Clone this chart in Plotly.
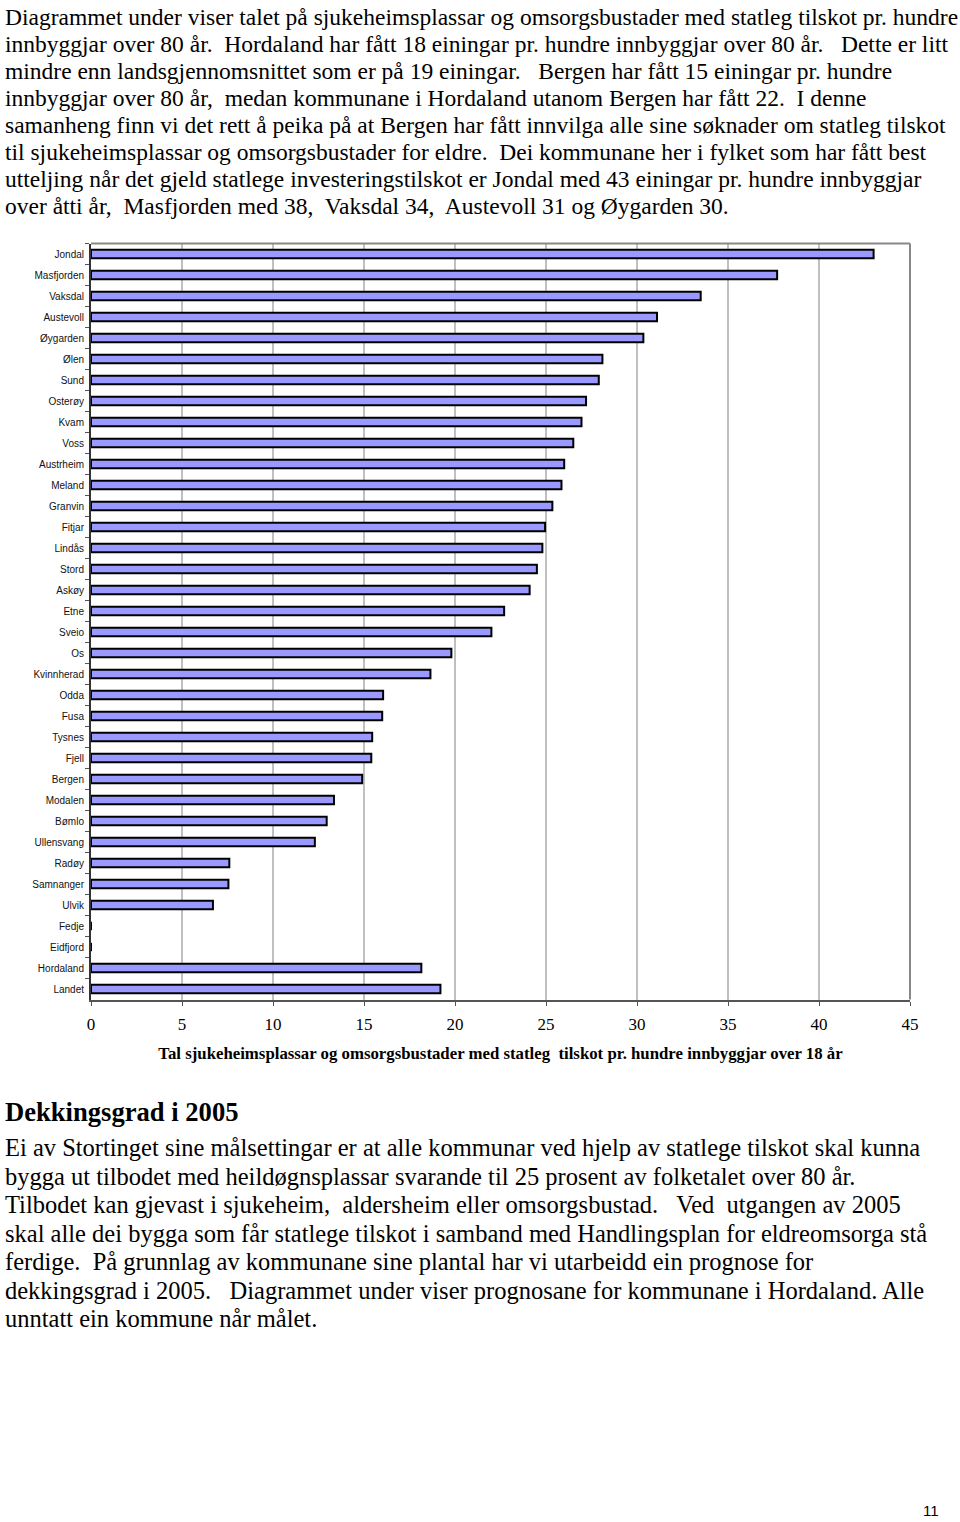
import plotly.graph_objects as go

municipalities = ["Jondal", "Masfjorden", "Vaksdal", "Austevoll", "Øygarden", "Ølen", "Sund",
                  "Osterøy", "Kvam", "Voss", "Austrheim", "Meland", "Granvin", "Fitjar", "Lindås",
                  "Stord", "Askøy", "Etne", "Sveio", "Os", "Kvinnherad", "Odda", "Fusa", "Tysnes",
                  "Fjell", "Bergen", "Modalen", "Bømlo", "Ullensvang", "Radøy", "Samnanger", "Ulvik",
                  "Fedje", "Eidfjord", "Hordaland", "Landet"]
units_per_100 = [43.0, 37.7, 33.5, 31.1, 30.35, 28.1, 27.9,
                 27.2, 26.95, 26.5, 26.0, 25.85, 25.35, 24.95, 24.8,
                 24.5, 24.1, 22.7, 22.0, 19.8, 18.65, 16.05, 16.0, 15.45,
                 15.4, 14.9, 13.35, 12.95, 12.3, 7.6, 7.55, 6.7,
                 0, 0, 18.15, 19.2]
x_ticks = [0, 5, 10, 15, 20, 25, 30, 35, 40, 45]
x_title = "Tal sjukeheimsplassar og omsorgsbustader med statleg\u00a0 tilskot pr. hundre innbyggjar over 18 år"

NB = "\u00a0"
para1 = [
    "Diagrammet under viser talet på sjukeheimsplassar og omsorgsbustader med statleg tilskot pr. hundre",
    f"innbyggjar over 80 år.{NB} Hordaland har fått 18 einingar pr. hundre innbyggjar over 80 år.{NB}{NB} Dette er litt",
    f"mindre enn landsgjennomsnittet som er på 19 einingar.{NB}{NB} Bergen har fått 15 einingar pr. hundre",
    f"innbyggjar over 80 år,{NB} medan kommunane i Hordaland utanom Bergen har fått 22.{NB} I denne",
    "samanheng finn vi det rett å peika på at Bergen har fått innvilga alle sine søknader om statleg tilskot",
    f"til sjukeheimsplassar og omsorgsbustader for eldre.{NB} Dei kommunane her i fylket som har fått best",
    "utteljing når det gjeld statlege investeringstilskot er Jondal med 43 einingar pr. hundre innbyggjar",
    f"over åtti år,{NB} Masfjorden med 38,{NB} Vaksdal 34,{NB} Austevoll 31 og Øygarden 30.",
]
heading = "Dekkingsgrad i 2005"
para2 = [
    "Ei av Stortinget sine målsettingar er at alle kommunar ved hjelp av statlege tilskot skal kunna",
    "bygga ut tilbodet med heildøgnsplassar svarande til 25 prosent av folketalet over 80 år.",
    f"Tilbodet kan gjevast i sjukeheim,{NB} aldersheim eller omsorgsbustad.{NB}{NB} Ved{NB} utgangen av 2005",
    "skal alle dei bygga som får statlege tilskot i samband med Handlingsplan for eldreomsorga stå",
    f"ferdige.{NB} På grunnlag av kommunane sine plantal har vi utarbeidd ein prognose for",
    f"dekkingsgrad i 2005.{NB}{NB} Diagrammet under viser prognosane for kommunane i Hordaland. Alle",
    "unntatt ein kommune når målet.",
]
page_number = "11"

W, H = 960, 1522
SERIF = "Liberation Serif, Times New Roman, serif"
SANS = "Liberation Sans, Arial, sans-serif"

def px(x):
    return x / W

def py(y):
    return 1 - y / H

fig = go.Figure()
fig.add_trace(go.Bar(
    x=units_per_100, y=municipalities, orientation="h",
    width=0.4,
    marker=dict(color="#9999FF", line=dict(color="#000000", width=2)),
    hoverinfo="x+y",
))

plot_left, plot_right = 91, 910
plot_top, plot_bottom = 243.5, 999.5

fig.update_layout(
    width=W, height=H, autosize=False,
    margin=dict(l=0, r=0, t=0, b=0, autoexpand=False),
    paper_bgcolor="white", plot_bgcolor="white",
    showlegend=False,
    xaxis=dict(
        domain=[px(plot_left), px(plot_right)],
        range=[0, 45], tickvals=x_ticks, ticktext=[str(v) for v in x_ticks],
        showgrid=True, gridcolor="#c0c0c0", gridwidth=1.5,
        showline=True, linecolor="#555555", linewidth=2,
        ticks="outside", ticklen=4, tickcolor="#555555",
        tickfont=dict(family=SERIF, size=17, color="#000"),
        ticklabelstandoff=4,
        zeroline=False, automargin=False,
        title=dict(text="<b>" + x_title + "</b>", font=dict(family=SERIF, size=16.8, color="#000"), standoff=14),
    ),
    yaxis=dict(
        domain=[py(plot_bottom), py(plot_top)],
        type="category", autorange="reversed",
        showline=True, linecolor="#333333", linewidth=2,
        ticks="outside", ticklen=4, tickcolor="#555555", tickson="boundaries",
        tickfont=dict(family=SANS, size=10, color="#111"),
        ticklabelstandoff=3,
        showgrid=False, zeroline=False, automargin=False,
    ),
)

# gray frame on top and right
fig.add_shape(type="line", xref="x domain", yref="y domain", x0=0, x1=1, y0=1, y1=1,
              line=dict(color="#888888", width=2))
fig.add_shape(type="line", xref="x domain", yref="y domain", x0=1, x1=1, y0=0, y1=1,
              line=dict(color="#888888", width=2))

def add_line(text, y, size, bold=False, x=3):
    fig.add_annotation(
        text=("<b>" + text + "</b>") if bold else text,
        xref="paper", yref="paper", x=px(x), y=py(y),
        xanchor="left", yanchor="middle", showarrow=False,
        font=dict(family=SERIF, size=size, color="#000"),
    )

for i, line in enumerate(para1):
    add_line(line, 17 + 27 * i, 23.5)

add_line(heading, 1112, 26.6, bold=True)
p2_y = [1147, 1176, 1204, 1233, 1261, 1290, 1318]
for line, y in zip(para2, p2_y):
    add_line(line, y, 24.5)

fig.add_annotation(text=page_number, xref="paper", yref="paper", x=px(931), y=py(1510),
                   xanchor="center", yanchor="middle", showarrow=False,
                   font=dict(family=SANS, size=15, color="#000"))

fig.write_html("out.html", config={"displayModeBar": False},
               post_script="document.body.style.margin='0px';")
